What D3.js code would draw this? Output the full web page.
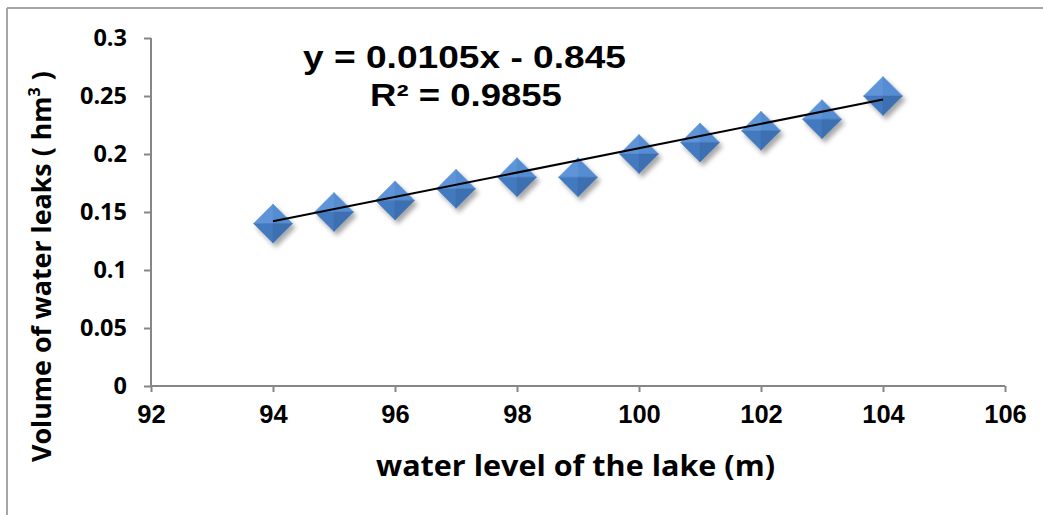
<!DOCTYPE html>
<html><head><meta charset="utf-8">
<script src="https://cdn.jsdelivr.net/npm/d3@7"></script>
<style>body{margin:0;background:#fff}svg{display:block}</style>
</head><body>
<svg id="c" width="1043" height="515"></svg>
<script>
const waterLevel = [94, 95, 96, 97, 98, 99, 100, 101, 102, 103, 104];
const leakVolume = [0.14, 0.15, 0.16, 0.17, 0.18, 0.18, 0.20, 0.21, 0.22, 0.23, 0.25];
const xTicks = [92, 94, 96, 98, 100, 102, 104, 106];
const yTicks = [0, 0.05, 0.1, 0.15, 0.2, 0.25, 0.3];
const yTickLabels = ["0", "0.05", "0.1", "0.15", "0.2", "0.25", "0.3"];
const trendSlope = 0.0105, trendIntercept = -0.845;
const equationText = "y = 0.0105x - 0.845";
const r2Value = "0.9855";
const xTitle = "water level of the lake (m)";

const svg = d3.select("#c");
const x = d3.scaleLinear().domain([92, 106]).range([151, 1005]);
const y = d3.scaleLinear().domain([0, 0.3]).range([386, 38]);

// frame
svg.append("line").attr("x1",7).attr("x2",1043).attr("y1",8).attr("y2",8).attr("stroke","#a6a6a6").attr("stroke-width",2);
svg.append("line").attr("x1",7).attr("x2",7).attr("y1",8).attr("y2",515).attr("stroke","#a6a6a6").attr("stroke-width",2);

const defs = svg.append("defs");
const f = defs.append("filter").attr("id","sh").attr("x","-50%").attr("y","-50%").attr("width","200%").attr("height","200%");
f.append("feGaussianBlur").attr("in","SourceAlpha").attr("stdDeviation",2.5).attr("result","b");
f.append("feOffset").attr("in","b").attr("dx",3).attr("dy",4).attr("result","o");
f.append("feComponentTransfer").attr("in","o").attr("result","o2").append("feFuncA").attr("type","linear").attr("slope",0.35);
const m = f.append("feMerge"); m.append("feMergeNode").attr("in","o2"); m.append("feMergeNode").attr("in","SourceGraphic");

// axes
const yAxis = d3.axisLeft(y).tickValues(yTicks).tickSize(7).tickFormat((d,i)=>yTickLabels[i]).tickPadding(17);
const gy = svg.append("g").attr("transform","translate(151,0)").call(yAxis);
gy.select(".domain").attr("stroke","#868686").attr("stroke-width",2).attr("d","M0,38V386");
gy.selectAll(".tick line").attr("stroke","#868686").attr("stroke-width",2);
gy.selectAll(".tick text").attr("font-family","'Open Sans', sans-serif").attr("font-weight",700).attr("font-size",23.5).attr("fill","#000");

const xAxis = d3.axisBottom(x).tickValues(xTicks).tickSize(6).tickFormat(d3.format("d")).tickPadding(13);
const gx = svg.append("g").attr("transform","translate(0,386)").call(xAxis);
gx.select(".domain").attr("stroke","#868686").attr("stroke-width",2).attr("d","M151,0H1005");
gx.selectAll(".tick line").attr("stroke","#868686").attr("stroke-width",2);
gx.selectAll(".tick text").attr("font-family","'Liberation Sans', Arial, sans-serif").attr("font-weight",700).attr("font-size",25.5).attr("fill","#000");

// markers
const r = 19.5;
const faces = [
  {p:[[0,-1],[-1,0],[0,0]], c:"#5e95d8"},
  {p:[[0,-1],[1,0],[0,0]], c:"#548dd2"},
  {p:[[-1,0],[0,1],[0,0]], c:"#4379bf"},
  {p:[[1,0],[0,1],[0,0]], c:"#3d6fb1"}
];
const mk = svg.append("g").selectAll("g").data(waterLevel).join("g")
  .attr("transform",(d,i)=>`translate(${x(d)},${y(leakVolume[i])})`).attr("filter","url(#sh)");
faces.forEach(fc=>{
  mk.append("path").attr("d","M"+fc.p.map(q=>[q[0]*r,q[1]*r].join(",")).join("L")+"Z").attr("fill",fc.c).attr("stroke",fc.c).attr("stroke-width",0.5);
});

// trendline
const x0 = d3.min(waterLevel), x1 = d3.max(waterLevel);
svg.append("line").attr("x1",x(x0)).attr("y1",y(trendSlope*x0+trendIntercept))
  .attr("x2",x(x1)).attr("y2",y(trendSlope*x1+trendIntercept)).attr("stroke","#000").attr("stroke-width",2);

// equation (horizontally stretched like the reference)
function stretched(txt, left, base, size, width){
  const t = svg.append("text").attr("font-family","'Liberation Sans', Arial, sans-serif")
    .attr("font-weight",700).attr("font-size",size).text(txt);
  const w = t.node().getComputedTextLength();
  t.attr("transform",`translate(${left},${base}) scale(${width/w},1)`);
}
stretched(equationText, 303, 68, 31, 323);
stretched("R² = " + r2Value, 370, 106, 31, 192);

// axis titles
svg.append("text").attr("x",376).attr("y",476).attr("font-family","'Open Sans', sans-serif")
  .attr("font-weight",700).attr("font-size",28.5).attr("textLength",399).attr("lengthAdjust","spacingAndGlyphs").text(xTitle);
const yt = svg.append("text").attr("transform","translate(51,462) rotate(-90)")
  .attr("font-family","'Open Sans', sans-serif").attr("font-weight",700).attr("font-size",26.8);
yt.append("tspan").text("Volume of water leaks ( hm");
yt.append("tspan").attr("font-size",16).attr("dy",-11).text("3");
yt.append("tspan").attr("dy",11).text(" )");
</script>
</body></html>
